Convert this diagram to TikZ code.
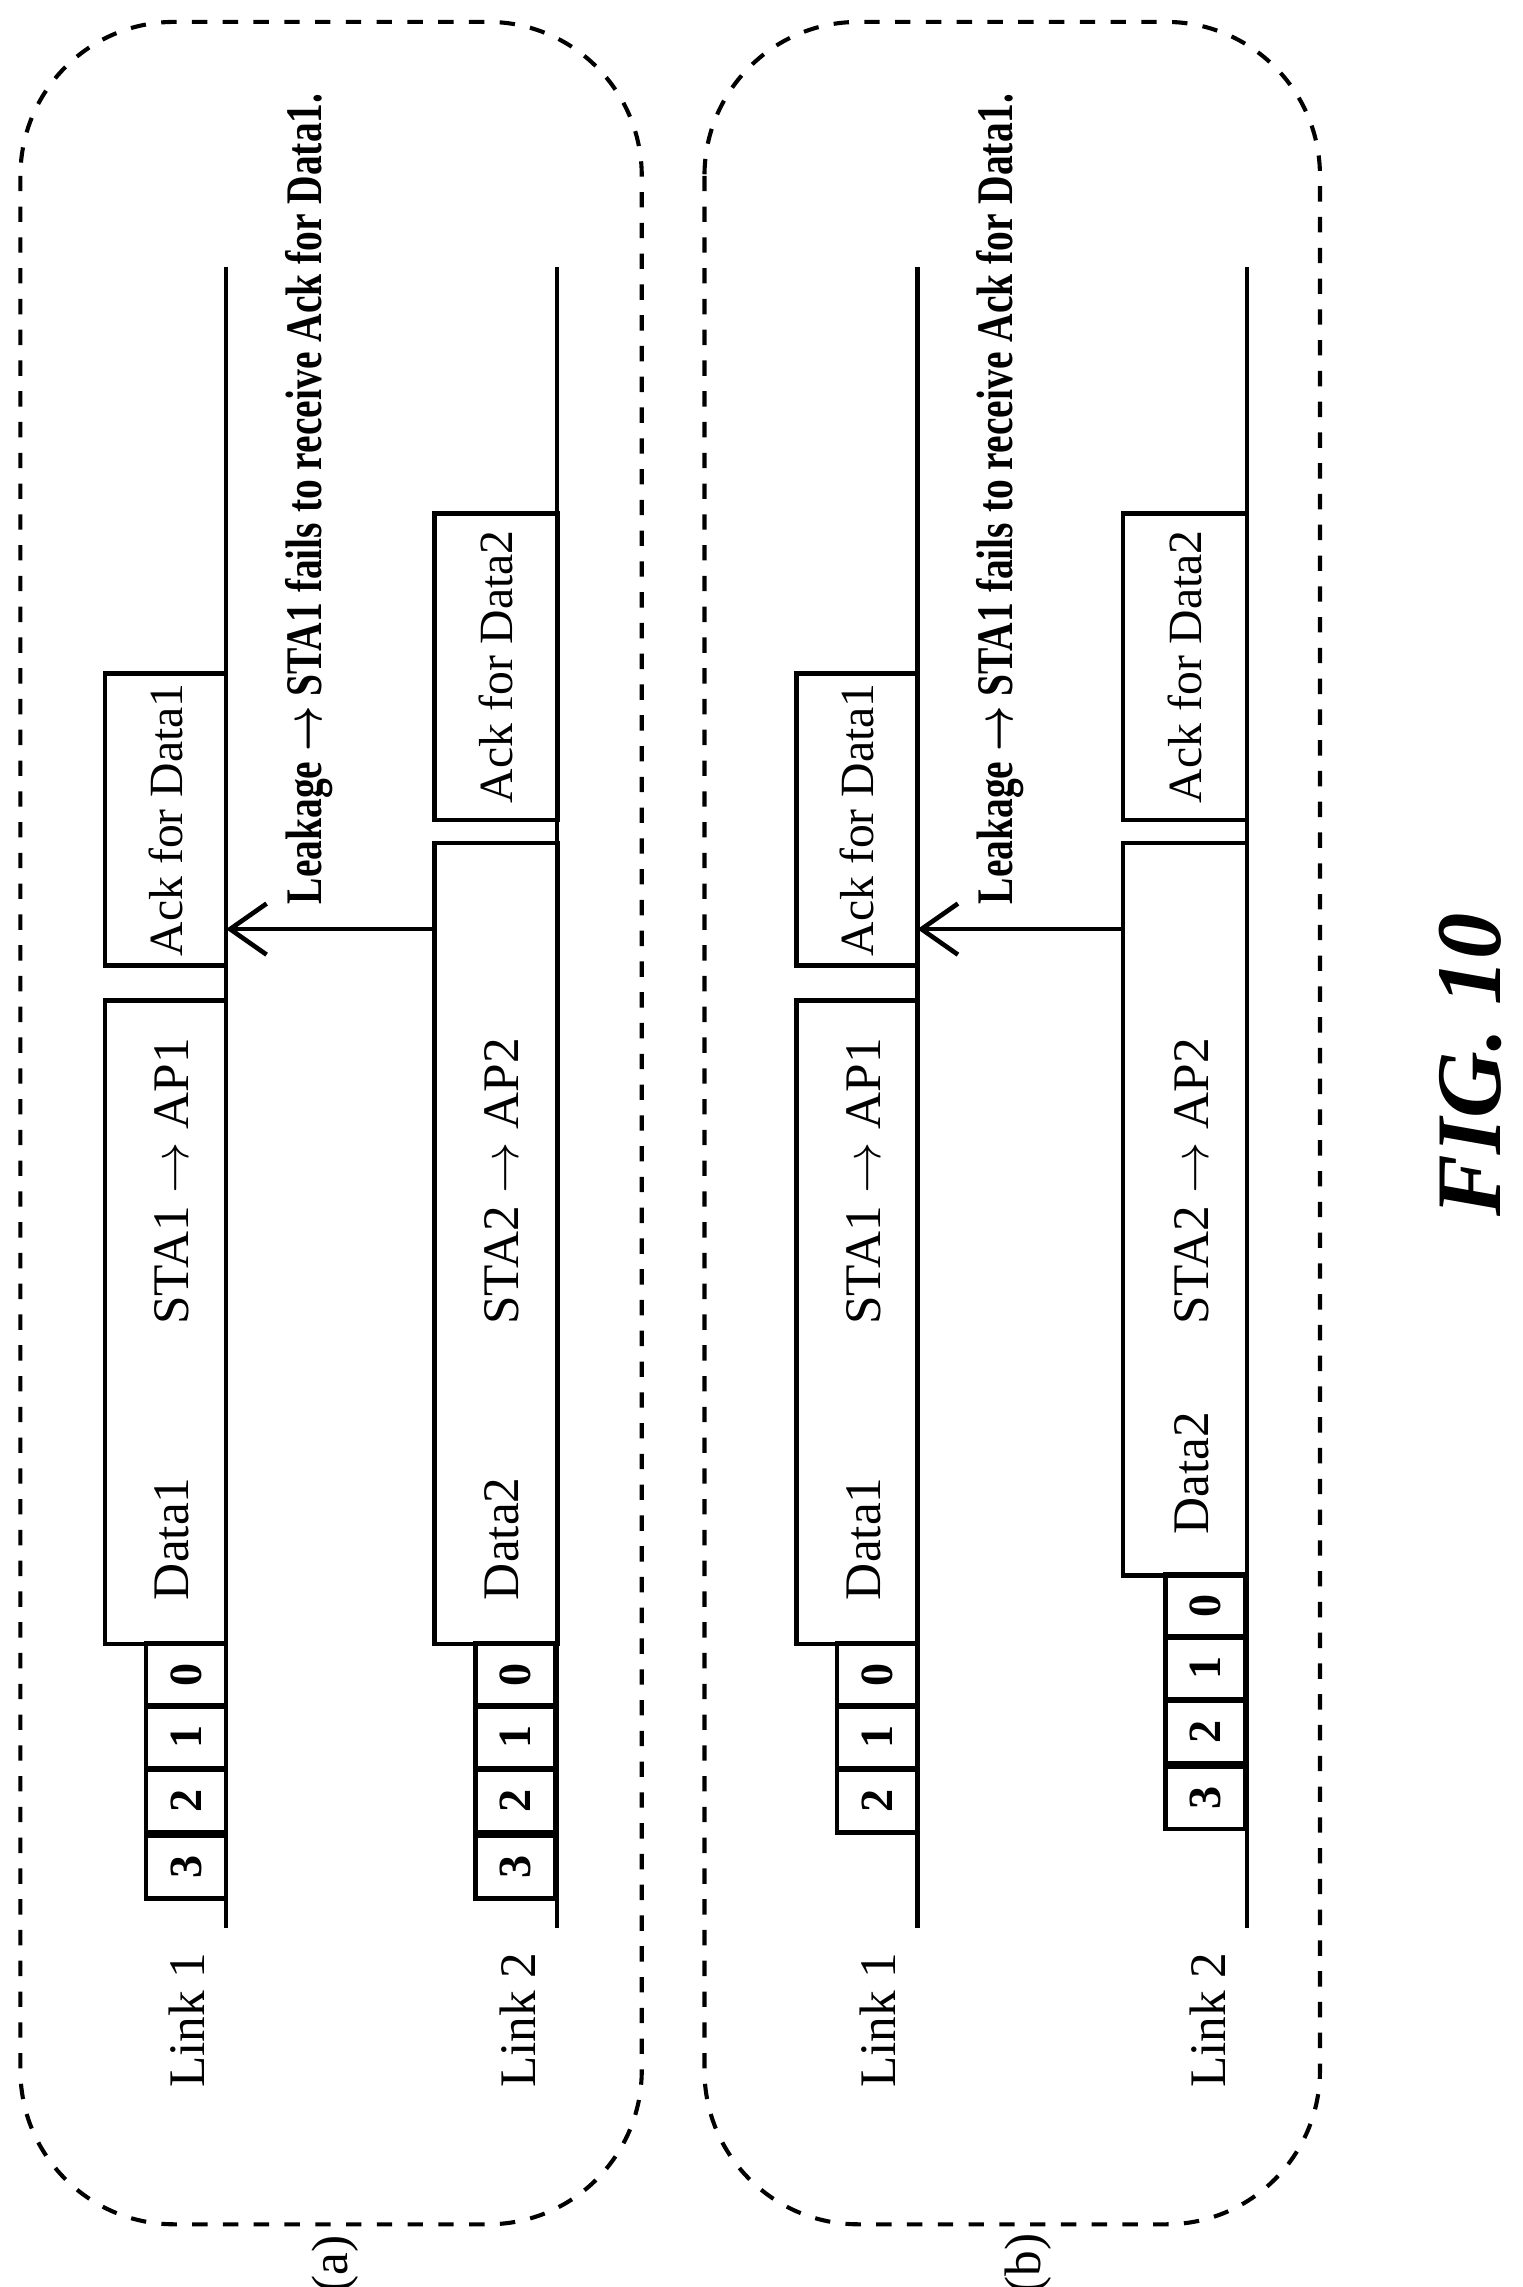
\documentclass[tikz,border=0pt]{standalone}
\usepackage{fontspec}
\setmainfont{Liberation Serif}
\usetikzlibrary{arrows.meta}
\tikzset{
  pkt/.style={draw, rectangle, rotate=90, inner sep=0pt, font=\fontsize{9.3}{11}\selectfont, line width=0.9pt},
  slot/.style={pkt, minimum width=4.3mm, minimum height=5.5mm, font=\bfseries\fontsize{9}{11}\selectfont},
  txt/.style={rotate=90, inner sep=0pt, font=\fontsize{10}{12}\selectfont},
  leak/.style={txt, font=\bfseries\fontsize{10}{12}\selectfont},
  panel/.style={draw, dashed, rounded corners=30pt, line width=0.8pt},
  line/.style={line width=0.9pt}
}
\newcommand\leaktext{\scalebox{0.77}[1]{Leakage $\boldsymbol{\rightarrow}$ STA1 fails to receive Ack for Data1.}}
\usepackage{amsmath,bm}
\begin{document}
\begin{tikzpicture}[x=0.01cm, y=-0.01cm]
\useasboundingbox (0,0) rectangle (1044,1568);

% panels
\draw[panel] (14,15) rectangle (440,1525);
\draw[panel] (483,15) rectangle (905,1525);
\node[txt] (capa) at (230,1552) {(a)};
\node[txt] (capb) at (705,1552) {(b)};
\node[txt, font=\bfseries\itshape\fontsize{18}{22}\selectfont] (fig) at (1008,730) {FIG. 10};

% ---- (a) ----
\coordinate (a1top) at (155,183); \coordinate (a1bot) at (155,1322);
\coordinate (a2top) at (382,183); \coordinate (a2bot) at (382,1322);
\draw[line] (a1top) -- (a1bot);
\draw[line] (a2top) -- (a2bot);
\node[txt] (alink1) at (128,1385) {Link 1};
\node[txt] (alink2) at (355,1385) {Link 2};

\node[slot] (a1s3) at (127.5,1280) {3};
\node[slot] (a1s2) at (127.5,1235) {2};
\node[slot] (a1s1) at (127.5,1191) {1};
\node[slot] (a1s0) at (127.5,1148.5) {0};
\node[pkt, minimum width=4.41cm, minimum height=0.83cm] (a1data) at (113.5,906.5) {};
\node[txt] (a1dl) at (118,1055) {Data1};
\node[txt] (a1dt) at (118,810) {STA1 $\rightarrow$ AP1};
\node[pkt, minimum width=2cm, minimum height=0.83cm] (a1ack) at (113.5,562) {Ack for Data1};

\node[slot] (a2s3) at (353.5,1280) {3};
\node[slot] (a2s2) at (353.5,1235) {2};
\node[slot] (a2s1) at (353.5,1191) {1};
\node[slot] (a2s0) at (353.5,1148.5) {0};
\node[pkt, minimum width=5.49cm, minimum height=0.84cm] (a2data) at (340,852.5) {};
\node[txt] (a2dl) at (344,1055) {Data2};
\node[txt] (a2dt) at (344,810) {STA2 $\rightarrow$ AP2};
\node[pkt, minimum width=2.1cm, minimum height=0.84cm] (a2ack) at (340,457) {Ack for Data2};

\coordinate (aleak) at (298,637);
\draw[line, -{Straight Barb[length=2.5mm, width=3.5mm]}] (aleak) -- (aleak -| a1top);
\node[leak] (aleaktxt) at (212,342) {\leaktext};

% ---- (b) ----
\coordinate (b1top) at (629,183); \coordinate (b1bot) at (629,1322);
\coordinate (b2top) at (855,183); \coordinate (b2bot) at (855,1322);
\draw[line] (b1top) -- (b1bot);
\draw[line] (b2top) -- (b2bot);
\node[txt] (blink1) at (602,1385) {Link 1};
\node[txt] (blink2) at (828,1385) {Link 2};

\node[slot] (b1s2) at (601.5,1235) {2};
\node[slot] (b1s1) at (601.5,1191) {1};
\node[slot] (b1s0) at (601.5,1148.5) {0};
\node[pkt, minimum width=4.41cm, minimum height=0.83cm] (b1data) at (587.5,906.5) {};
\node[txt] (b1dl) at (592,1055) {Data1};
\node[txt] (b1dt) at (592,810) {STA1 $\rightarrow$ AP1};
\node[pkt, minimum width=2cm, minimum height=0.83cm] (b1ack) at (587.5,562) {Ack for Data1};

\node[slot] (b2s3) at (826.5,1232.5) {3};
\node[slot] (b2s2) at (826.5,1187.5) {2};
\node[slot] (b2s1) at (826.5,1143.5) {1};
\node[slot] (b2s0) at (826.5,1101) {0};
\node[pkt, minimum width=5.02cm, minimum height=0.85cm] (b2data) at (812.5,829) {};
\node[txt] (b2dl) at (817,1010) {Data2};
\node[txt] (b2dt) at (817,810) {STA2 $\rightarrow$ AP2};
\node[pkt, minimum width=2.1cm, minimum height=0.85cm] (b2ack) at (812.5,457) {Ack for Data2};

\coordinate (bleak) at (770,637);
\draw[line, -{Straight Barb[length=2.5mm, width=3.5mm]}] (bleak) -- (bleak -| b1top);
\node[leak] (bleaktxt) at (686,342) {\leaktext};
\end{tikzpicture}
\end{document}
